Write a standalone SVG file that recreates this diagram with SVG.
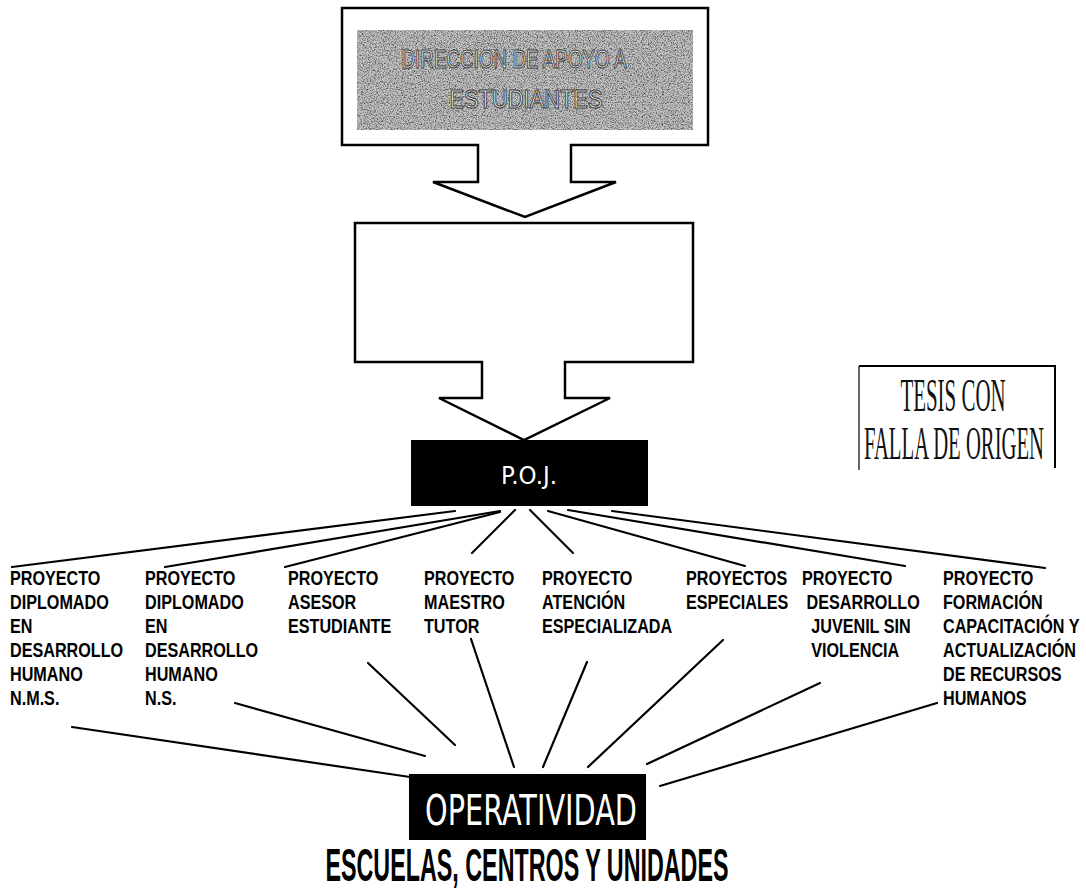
<svg xmlns="http://www.w3.org/2000/svg" width="1086" height="892" viewBox="0 0 1086 892">
<style>
.blk{fill:#fff;stroke:#000;stroke-width:2.5;stroke-linejoin:miter}
.lbl{font-family:"Liberation Sans",Arial,sans-serif;font-weight:bold;font-size:21px;fill:#000}
.con line{stroke:#000;stroke-width:2.2;stroke-linecap:round}
.wt{font-family:"DejaVu Sans","Liberation Sans",sans-serif;fill:#fff}
</style>
<defs>
<filter id="grain" x="0" y="0" width="1" height="1" color-interpolation-filters="sRGB">
<feTurbulence type="fractalNoise" baseFrequency="0.85" numOctaves="2" seed="7"/>
<feColorMatrix type="matrix" values="0 0 0 0 0.25  0 0 0 0 0.25  0 0 0 0 0.25  2.6 0 0 0 -1.15"/>
</filter>
<filter id="grain2" x="0" y="0" width="1" height="1" color-interpolation-filters="sRGB">
<feTurbulence type="fractalNoise" baseFrequency="0.9" numOctaves="1" seed="3"/>
<feColorMatrix type="matrix" values="0 0 0 0 0.4  0 0 0 0 0.4  0 0 0 0 0.4  4 0 0 0 -2.1"/>
</filter>
</defs>
<rect width="1086" height="892" fill="#fff"/>

<g id="direccion">
<path class="blk" d="M342,8 H708 V145 H571 V182 H616 L525,217 L433,182 H478 V145 H342 Z"/>
<rect x="357" y="30" width="336" height="100" fill="#c4c4c4"/>
<rect x="357" y="30" width="336" height="100" fill="#333" filter="url(#grain)"/>
<g font-family="'Liberation Sans',Arial,sans-serif" font-size="26" fill="#fafafa" stroke="#3a3a3a" stroke-width="1.1" text-anchor="middle">
<text x="514" y="68" textLength="225" lengthAdjust="spacingAndGlyphs">DIRECCION DE APOYO A</text>
<text x="526" y="108" textLength="153" lengthAdjust="spacingAndGlyphs">ESTUDIANTES</text>
</g>
<rect x="357" y="30" width="336" height="100" fill="#555" opacity="0.3" filter="url(#grain2)"/>
</g>

<g id="intermedio">
<path class="blk" d="M355,223 H693 V362 H565 V398 H610 L524,440 L439,398 H482 V362 H355 Z"/>
</g>

<g id="poj">
<rect x="411" y="440" width="237" height="66" fill="#000"/>
<text class="wt" x="529" y="484" font-size="24" text-anchor="middle" textLength="56" lengthAdjust="spacingAndGlyphs">P.O.J.</text>
</g>

<g id="tesis">
<path d="M859,366 H1055 V468" fill="none" stroke="#000" stroke-width="2"/>
<path d="M859,366 V470" fill="none" stroke="#000" stroke-width="1.2"/>
<g font-family="'Liberation Serif','Times New Roman',serif" font-size="46" fill="#111" text-anchor="middle">
<text transform="translate(953,411) scale(0.455,1)">TESIS CON</text>
<text transform="translate(954,459) scale(0.45,1)">FALLA DE ORIGEN</text>
</g>
</g>

<g id="p1" class="lbl" transform="translate(10,0) scale(0.77,1)">
<text y="585">PROYECTO</text><text y="609">DIPLOMADO</text><text y="633">EN</text><text y="657">DESARROLLO</text><text y="681">HUMANO</text><text y="705">N.M.S.</text>
</g>
<g id="p2" class="lbl" transform="translate(145,0) scale(0.77,1)">
<text y="585">PROYECTO</text><text y="609">DIPLOMADO</text><text y="633">EN</text><text y="657">DESARROLLO</text><text y="681">HUMANO</text><text y="705">N.S.</text>
</g>
<g id="p3" class="lbl" transform="translate(288,0) scale(0.77,1)">
<text y="585">PROYECTO</text><text y="609">ASESOR</text><text y="633">ESTUDIANTE</text>
</g>
<g id="p4" class="lbl" transform="translate(424,0) scale(0.77,1)">
<text y="585">PROYECTO</text><text y="609">MAESTRO</text><text y="633">TUTOR</text>
</g>
<g id="p5" class="lbl" transform="translate(542,0) scale(0.77,1)">
<text y="585">PROYECTO</text><text y="609">ATENCIÓN</text><text y="633">ESPECIALIZADA</text>
</g>
<g id="p6" class="lbl" transform="translate(686,0) scale(0.77,1)">
<text y="585">PROYECTOS</text><text y="609">ESPECIALES</text>
</g>
<g id="p7" class="lbl" transform="translate(802,0) scale(0.77,1)">
<text y="585">PROYECTO</text><text x="6" y="609">DESARROLLO</text><text x="12" y="633">JUVENIL SIN</text><text x="12" y="657">VIOLENCIA</text>
</g>
<g id="p8" class="lbl" transform="translate(943,0) scale(0.77,1)">
<text y="585">PROYECTO</text><text y="609">FORMACIÓN</text><text y="633">CAPACITACIÓN Y</text><text y="657">ACTUALIZACIÓN</text><text y="681">DE RECURSOS</text><text y="705">HUMANOS</text>
</g>

<g id="operatividad">
<rect x="409" y="774" width="237" height="66" fill="#000"/>
<text class="wt" x="531" y="825" font-size="42" text-anchor="middle" textLength="212" lengthAdjust="spacingAndGlyphs">OPERATIVIDAD</text>
</g>

<g id="escuelas">
<text transform="translate(527,881) scale(0.496,1)" font-family="'Liberation Sans',Arial,sans-serif" font-weight="bold" font-size="47" text-anchor="middle">ESCUELAS, CENTROS Y UNIDADES</text>
</g>

<g id="connectors" class="con">
<line x1="455" y1="511" x2="12" y2="567"/>
<line x1="500" y1="511" x2="165" y2="567"/>
<line x1="500" y1="512" x2="285" y2="567"/>
<line x1="515" y1="510" x2="472" y2="553"/>
<line x1="530" y1="510" x2="573" y2="553"/>
<line x1="548" y1="511" x2="745" y2="566"/>
<line x1="568" y1="510" x2="905" y2="566"/>
<line x1="612" y1="511" x2="1045" y2="568"/>
<line x1="72" y1="727" x2="410" y2="777"/>
<line x1="235" y1="703" x2="425" y2="756"/>
<line x1="368" y1="663" x2="455" y2="745"/>
<line x1="471" y1="639" x2="514" y2="767"/>
<line x1="587" y1="662" x2="543" y2="767"/>
<line x1="723" y1="640" x2="588" y2="767"/>
<line x1="820" y1="683" x2="647" y2="764"/>
<line x1="937" y1="703" x2="660" y2="786"/>
</g>
</svg>
